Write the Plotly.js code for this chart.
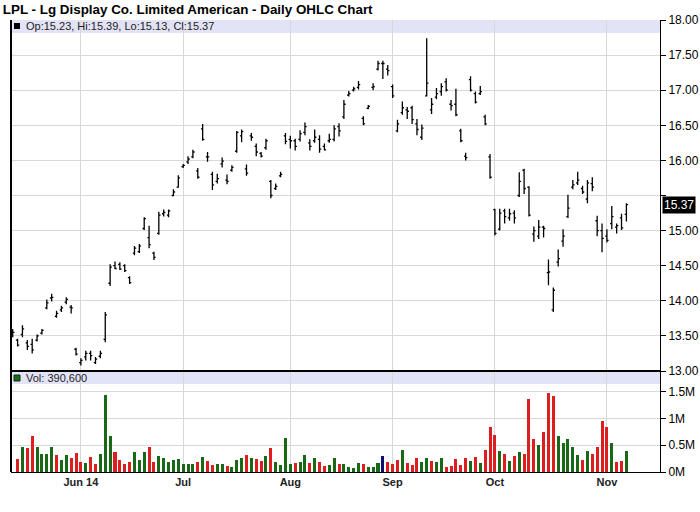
<!DOCTYPE html>
<html>
<head>
<meta charset="utf-8">
<script src="https://cdn.plot.ly/plotly-3.0.1.min.js"></script>
<style>
html,body{margin:0;padding:0;background:#fff;}
#chart{width:700px;height:512px;}
</style>
</head>
<body>
<div id="chart"></div>
<script>
// Trading-day positions of month labels (index 0 = May 12, 2014)
const monthTickIdx = [14, 35, 57, 78, 99, 122];
const monthTickText = ['Jun 14', 'Jul', 'Aug', 'Sep', 'Oct', 'Nov'];
const priceTicks = [13.0, 13.5, 14.0, 14.5, 15.0, 15.5, 16.0, 16.5, 17.0, 17.5, 18.0];
const volTicks = [0, 500000, 1000000, 1500000];
const volTickText = ['0M', '0.5M', '1M', '1.5M'];

const openP = [13.55,13.44,13.52,13.40,13.38,13.44,13.54,13.90,14.04,13.78,13.87,13.98,13.91,13.31,13.12,13.20,13.25,13.12,13.21,13.45,
14.25,14.50,14.52,14.50,14.33,14.68,14.70,15.03,14.90,14.68,14.96,15.24,15.22,15.50,15.62,15.91,15.98,16.05,15.85,16.45,
16.05,15.80,15.70,15.95,15.72,15.86,16.13,16.35,15.88,16.35,16.20,16.10,16.18,15.70,15.60,15.78,16.35,16.30,16.28,16.30,
16.40,16.25,16.28,16.30,16.20,16.28,16.30,16.48,16.62,16.93,17.00,17.04,16.60,16.74,17.04,17.30,17.38,17.30,17.05,16.42,
16.68,16.72,16.75,16.52,16.33,16.92,16.72,16.90,16.98,17.12,16.80,16.80,16.42,16.06,17.15,16.95,16.95,16.62,16.05,15.30,
15.02,15.28,15.18,15.25,15.50,15.86,15.62,14.95,14.92,15.05,14.40,13.87,14.55,14.85,15.20,15.62,15.68,15.60,15.45,15.67,
15.14,15.00,14.92,15.10,15.05,15.18,15.23];
const highP = [13.60,13.46,13.65,13.44,13.46,13.52,13.60,14.02,14.10,13.86,13.93,14.05,13.94,13.33,13.18,13.29,13.29,13.20,13.29,13.84,
14.52,14.56,14.55,14.52,14.35,14.78,14.81,15.19,15.07,14.70,15.27,15.30,15.30,15.59,15.79,15.95,16.06,16.15,15.89,16.52,
16.12,15.84,15.81,16.04,15.80,15.93,16.42,16.44,15.94,16.39,16.24,16.12,16.31,15.72,15.67,15.84,16.39,16.35,16.31,16.43,
16.54,16.30,16.44,16.36,16.24,16.38,16.50,16.53,16.86,16.99,17.05,17.13,16.63,16.79,17.10,17.42,17.42,17.36,17.08,16.58,
16.84,16.76,16.78,16.59,16.51,17.74,16.89,17.03,17.10,17.17,16.86,17.02,16.45,16.11,17.20,16.98,17.06,16.65,16.09,15.31,
15.31,15.31,15.31,15.29,15.83,15.88,15.63,15.06,15.15,15.07,14.59,14.19,14.73,15.02,15.51,15.72,15.84,15.64,15.72,15.76,
15.21,15.10,15.02,15.35,15.10,15.24,15.39];
const lowP = [13.48,13.35,13.48,13.30,13.25,13.42,13.52,13.88,13.99,13.76,13.84,13.95,13.82,13.22,13.08,13.15,13.15,13.10,13.18,13.41,
14.21,14.45,14.44,14.41,14.24,14.65,14.68,15.01,14.75,14.58,14.94,15.20,15.19,15.49,15.61,15.89,15.95,16.03,15.74,16.28,
15.98,15.58,15.67,15.90,15.66,15.84,16.11,16.26,15.78,16.28,16.06,16.04,16.15,15.46,15.58,15.76,16.23,16.17,16.14,16.27,
16.36,16.14,16.25,16.11,16.14,16.25,16.27,16.34,16.59,16.91,16.98,17.01,16.50,16.73,17.00,17.28,17.16,17.21,16.89,16.40,
16.65,16.59,16.52,16.36,16.29,16.91,16.66,16.87,16.92,16.98,16.71,16.63,16.26,16.00,16.98,16.81,16.93,16.50,15.74,14.93,
15.00,15.10,15.14,15.10,15.48,15.52,15.20,14.84,14.88,14.90,14.22,13.84,14.49,14.77,15.18,15.59,15.65,15.52,15.39,15.56,
14.92,14.69,14.83,15.02,14.96,15.01,15.13];
const closeP = [13.55,13.37,13.60,13.35,13.30,13.50,13.58,13.97,14.05,13.82,13.90,14.02,13.90,13.24,13.15,13.25,13.22,13.17,13.25,13.80,
14.48,14.46,14.45,14.43,14.26,14.75,14.78,15.17,14.80,14.62,15.22,15.26,15.28,15.55,15.75,15.93,16.02,16.12,15.76,16.30,
16.05,15.65,15.74,15.99,15.70,15.90,16.40,16.41,15.82,16.33,16.12,16.06,16.28,15.50,15.63,15.80,16.27,16.28,16.20,16.38,
16.48,16.20,16.33,16.16,16.15,16.30,16.45,16.42,16.80,16.95,17.02,17.08,16.52,16.77,17.05,17.38,17.38,17.28,16.92,16.52,
16.75,16.70,16.58,16.44,16.46,17.10,16.80,16.95,17.05,17.00,16.78,16.65,16.28,16.04,17.00,16.83,16.98,16.52,15.76,14.96,
15.25,15.20,15.24,15.18,15.70,15.60,15.22,15.00,15.05,15.03,14.41,14.15,14.60,14.92,15.32,15.65,15.72,15.55,15.68,15.62,
15.00,14.89,14.86,15.20,15.07,15.04,15.37];
// Volume in shares (first day not visible in the picture)
const volume = [null,250000,470000,440000,680000,460000,340000,340000,460000,320000,230000,320000,270000,360000,190000,170000,280000,150000,340000,1440000,
680000,380000,230000,150000,190000,380000,230000,380000,460000,190000,300000,270000,190000,230000,250000,150000,150000,150000,190000,280000,
210000,130000,150000,150000,110000,90000,230000,270000,320000,270000,250000,210000,300000,440000,190000,130000,630000,150000,170000,190000,
320000,170000,270000,190000,110000,130000,270000,150000,150000,90000,80000,170000,150000,90000,90000,170000,300000,190000,150000,230000,
420000,170000,130000,270000,190000,270000,210000,190000,270000,90000,110000,250000,130000,270000,210000,280000,170000,420000,850000,700000,
400000,340000,210000,300000,380000,340000,1370000,610000,510000,740000,1480000,1420000,680000,550000,610000,460000,320000,230000,400000,340000,
460000,950000,840000,550000,190000,210000,390600];
// u = up day, d = down day, n = unchanged
const volDir = ['u','d','u','d','d','u','u','u','u','d','u','u','d','d','d','u','d','d','u','u',
'u','d','d','d','d','u','u','u','d','d','u','u','u','u','u','u','u','u','d','u',
'd','d','u','u','d','u','u','u','d','u','d','d','u','d','u','u','u','u','d','u',
'u','d','u','d','d','u','u','d','u','u','u','u','d','u','u','u','n','d','d','d',
'u','d','d','d','u','u','d','u','u','d','d','d','d','d','u','d','u','d','d','d',
'u','d','u','d','u','d','d','d','u','d','d','d','u','u','u','u','u','d','u','d',
'd','d','d','u','d','d','u'];

const dirColor = {u: '#186818', d: '#dc1e1e', n: '#101070'};
const xIdx = openP.map((_, i) => i);
const last = openP.length - 1;
const lastClose = closeP[last];
const fmtVol = v => v.toLocaleString('en-US');
// hide a price label that would sit under the last-price box
const priceTickText = priceTicks.map(v => Math.abs(v - lastClose) < 0.2 ? '' : v.toFixed(2));

const FONT = 'Liberation Sans, Arial, sans-serif';
const splitFrac = 101 / 452;

const traces = [
  {
    type: 'ohlc', x: xIdx, open: openP, high: highP, low: lowP, close: closeP,
    xaxis: 'x', yaxis: 'y2', tickwidth: 0.35,
    increasing: {line: {color: '#000', width: 1.3}},
    decreasing: {line: {color: '#000', width: 1.3}},
    hoverinfo: 'skip', showlegend: false
  },
  {
    type: 'bar', x: xIdx, y: volume, xaxis: 'x', yaxis: 'y', width: 0.62,
    marker: {color: volDir.map(d => dirColor[d]), line: {width: 0}},
    hoverinfo: 'skip', showlegend: false
  }
];

const gridC = '#d8d8d8';
const layout = {
  width: 700, height: 512,
  margin: {l: 11, r: 40, t: 20, b: 40, pad: 0},
  paper_bgcolor: '#fff', plot_bgcolor: '#fff',
  font: {family: FONT, size: 12, color: '#000'},
  showlegend: false,
  bargap: 0,
  title: {
    text: 'LPL - Lg Display Co. Limited American - Daily OHLC Chart',
    x: 0.004, xref: 'container', xanchor: 'left',
    y: 1 - 9 / 512, yref: 'container', yanchor: 'middle',
    font: {family: FONT, size: 13.4, weight: 'bold', color: '#000'}
  },
  xaxis: {
    range: [-0.35, 132.9], anchor: 'y',
    tickmode: 'array', tickvals: monthTickIdx, ticktext: monthTickText,
    showgrid: true, gridcolor: gridC, gridwidth: 1,
    showline: true, linecolor: '#000', linewidth: 1,
    ticks: '', zeroline: false,
    tickfont: {family: FONT, size: 11, weight: 'bold', color: '#222'},
    rangeslider: {visible: false}, fixedrange: true
  },
  yaxis: {
    domain: [0, splitFrac], range: [0, 1886700], side: 'right', anchor: 'x',
    tickmode: 'array', tickvals: volTicks, ticktext: volTickText,
    showgrid: true, gridcolor: gridC, zeroline: false,
    showline: true, linecolor: '#000', linewidth: 1,
    ticks: 'outside', ticklen: 5, tickcolor: '#000',
    tickfont: {family: FONT, size: 12, color: '#000'}, fixedrange: true
  },
  yaxis2: {
    domain: [splitFrac, 1], range: [13, 18], side: 'right', anchor: 'x',
    tickmode: 'array', tickvals: priceTicks, ticktext: priceTickText,
    showgrid: true, gridcolor: gridC, zeroline: false,
    showline: true, linecolor: '#000', linewidth: 1,
    ticks: 'outside', ticklen: 5, tickcolor: '#000',
    tickfont: {family: FONT, size: 12, color: '#000'}, fixedrange: true
  },
  shapes: [
    // header bands
    {type: 'rect', xref: 'paper', yref: 'y2 domain', x0: 0, x1: 1, y0: 1 - 13 / 351, y1: 1,
     fillcolor: '#e3e3f7', line: {width: 0}, layer: 'below'},
    {type: 'rect', xref: 'paper', yref: 'y domain', x0: 0, x1: 1, y0: 1 - 13 / 101, y1: 1,
     fillcolor: '#e3e3f7', line: {width: 0}, layer: 'below'},
    // panel separator
    {type: 'line', xref: 'paper', yref: 'paper', x0: 0, x1: 1, y0: splitFrac, y1: splitFrac,
     line: {color: '#000', width: 2}},
    // left border
    {type: 'line', xref: 'paper', yref: 'paper', x0: 0, x1: 0, y0: 0, y1: 1,
     line: {color: '#000', width: 2}},
    // legend squares
    {type: 'rect', xref: 'paper', yref: 'paper', x0: 3 / 649, x1: 9 / 649, y0: (472 - 29) / 452, y1: (472 - 23) / 452,
     fillcolor: '#000', line: {width: 0}},
    {type: 'rect', xref: 'paper', yref: 'paper', x0: 3 / 649, x1: 9 / 649, y0: (472 - 381) / 452, y1: (472 - 375) / 452,
     fillcolor: '#186818', line: {color: '#0a300a', width: 1}}
  ],
  annotations: [
    {xref: 'paper', yref: 'paper', x: 13 / 649, y: (472 - 26) / 452, xanchor: 'left', yanchor: 'middle',
     text: 'Op:' + openP[last].toFixed(2) + ', Hi:' + highP[last].toFixed(2) + ', Lo:' + lowP[last].toFixed(2) + ', Cl:' + closeP[last].toFixed(2),
     showarrow: false, font: {family: FONT, size: 11, color: '#222'}},
    {xref: 'paper', yref: 'paper', x: 13 / 649, y: (472 - 378) / 452, xanchor: 'left', yanchor: 'middle',
     text: 'Vol: ' + fmtVol(volume[last]),
     showarrow: false, font: {family: FONT, size: 11, color: '#222'}},
    {xref: 'paper', yref: 'y2', x: 1, y: lastClose, xanchor: 'left', yanchor: 'middle', xshift: 2,
     text: lastClose.toFixed(2), showarrow: false, bgcolor: '#000', borderpad: 1,
     font: {family: FONT, size: 12, color: '#fff'}}
  ]
};

Plotly.newPlot('chart', traces, layout, {displayModeBar: false, staticPlot: true});
</script>
</body>
</html>
